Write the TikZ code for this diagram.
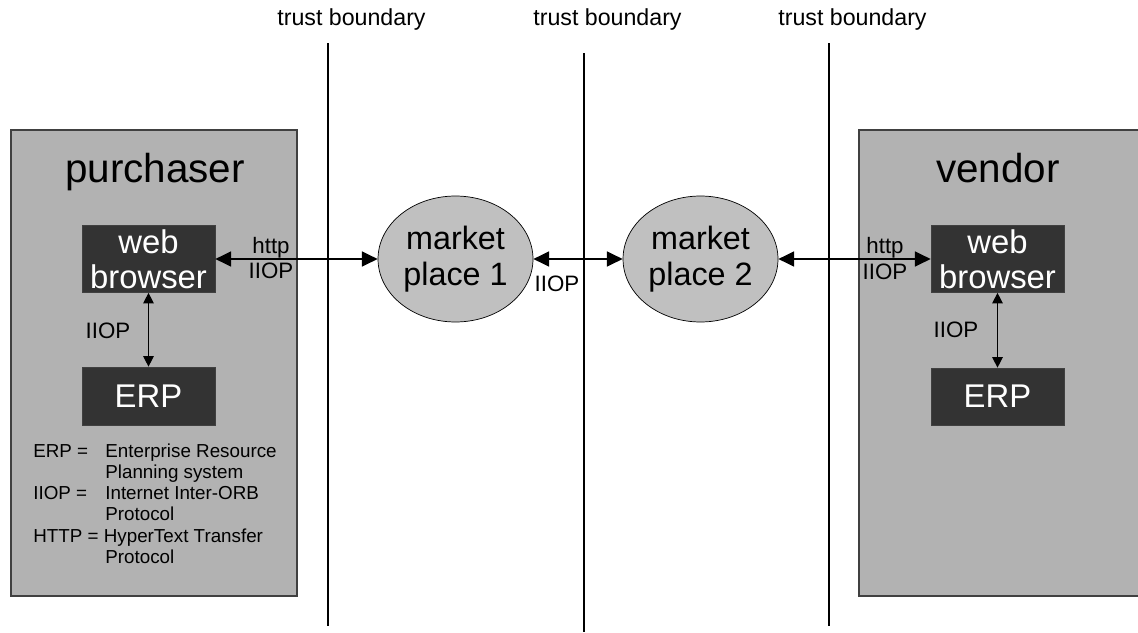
\documentclass[tikz,border=0pt]{standalone}
\usepackage{fontspec}
\setmainfont{Liberation Sans}
\usetikzlibrary{shapes.geometric,arrows.meta}
\definecolor{partygray}{HTML}{B2B2B2}
\definecolor{appgray}{HTML}{333333}
\definecolor{marketgray}{HTML}{C0C0C0}

\begin{document}
\begin{tikzpicture}[x=0.02cm,y=-0.02cm,
	party/.style={draw=black!75,fill=partygray,line width=0.6pt},
	title/.style={anchor=base,font=\fontsize{23}{27}\selectfont},
	app/.style={draw=black!75,fill=appgray,text=white,minimum width=2.66cm,inner sep=0pt,align=center,font=\fontsize{18.7}{19.8}\selectfont},
	market/.style={ellipse,draw,fill=marketgray,minimum width=3.1cm,minimum height=2.52cm,inner sep=0pt,align=center,font=\fontsize{18.4}{20.4}\selectfont},
	proto/.style={anchor=base,font=\fontsize{12.7}{14}\selectfont},
	tblabel/.style={anchor=base west,inner sep=0pt,font=\fontsize{13.2}{15}\selectfont},
	link/.style={{Triangle[length=9pt,width=8.5pt]}-{Triangle[length=9pt,width=8.5pt]},line width=1.1pt},
	vlink/.style={{Triangle[length=6pt,width=6pt]}-{Triangle[length=6pt,width=6pt]},line width=0.7pt}]
	\useasboundingbox (0,0) rectangle (1138,632);
	\foreach \x/\t/\b in {328/43/626,584/53/632,829/43/626}{ %trust boundaries
		\draw[line width=0.6pt] (\x,\t) -- (\x,\b);
		\node[tblabel] at (\x-51,25) {trust boundary};
	}
	\draw[party] (11,130) rectangle (297,596); %purchaser
	\draw[party] (859,130) rectangle (1145,596); %vendor
	\node[title] (pur) at (155,182) {purchaser};
	\node[title] (ven) at (998,182) {vendor};
	\node[app,minimum height=1.34cm] (wbl) at (148.5,259) {web\\browser};
	\node[app,minimum height=1.16cm] (erpl) at (148.5,396) {ERP};
	\node[app,minimum height=1.34cm] (wbr) at (997.5,259) {web\\browser};
	\node[app,minimum height=1.14cm] (erpr) at (997.5,396.5) {ERP};
	\node[market] (mp1) at (455.5,259) {market\\place 1};
	\node[market] (mp2) at (700.5,259) {market\\place 2};
	\draw[link] (wbl.east) -- (mp1.west);
	\draw[link] (mp1.east) -- (mp2.west);
	\draw[link] (mp2.east) -- (wbr.west);
	\draw[vlink] (wbl.south) -- (erpl.north);
	\draw[vlink] (wbr.south) -- (erpr.north);
	\node[proto] at (271,253) {http};
	\node[proto] at (271,278) {IIOP};
	\node[proto] at (557,291) {IIOP};
	\node[proto] at (885,253) {http};
	\node[proto] at (885,279) {IIOP};
	\node[proto] at (108,338) {IIOP};
	\node[proto] at (956,337) {IIOP};
	\node[anchor=base west,inner sep=0pt,font=\fontsize{10.7}{12.1}\selectfont] (leg) at (33,457) {%
		\begin{tabular}[t]{@{}p{1.44cm}@{}l@{}}
			ERP = & Enterprise Resource\\
			& Planning system\\
			IIOP = & Internet Inter-ORB\\
			& Protocol\\
			\multicolumn{2}{@{}l@{}}{HTTP = HyperText Transfer}\\
			& Protocol
		\end{tabular}};
\end{tikzpicture}
\end{document}
